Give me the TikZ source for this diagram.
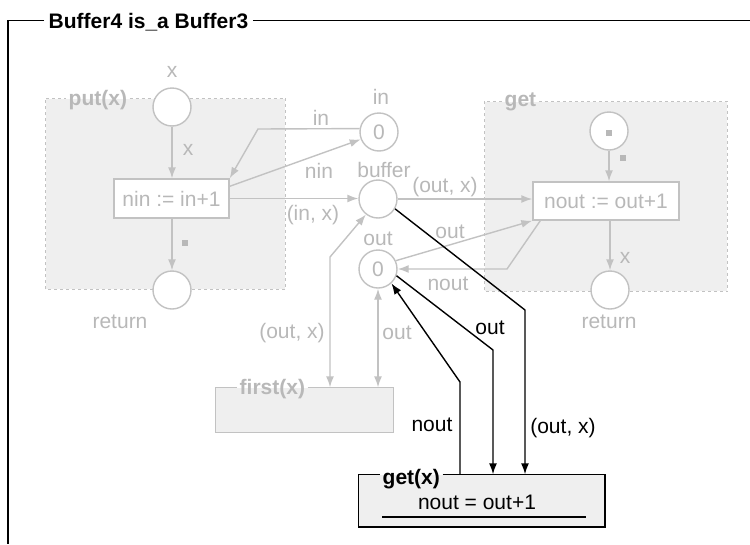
\documentclass[tikz,border=0pt]{standalone}
\usepackage{fontspec}
\setmainfont{Liberation Sans}
\usepackage{xcolor}
\usepackage{tikz}
\usetikzlibrary{arrows.meta}

\definecolor{faded}{HTML}{C2C2C2}
\definecolor{fadedtext}{HTML}{B8B8B8}
\definecolor{paper}{HTML}{EFEFEF}

\begin{document}
\begin{tikzpicture}[x=1pt,y=-1pt,line width=1.4pt,
  font=\fontsize{21}{25}\selectfont,
  place/.style={circle,draw=faded,fill=white,minimum size=38pt,inner sep=0pt,text=fadedtext},
  trans/.style={rectangle,draw=faded,fill=white,minimum height=38pt,inner sep=0pt,text=fadedtext},
  region/.style={draw=faded,dash pattern=on 3pt off 3pt},
  tag/.style={anchor=west,font=\fontsize{21}{25}\selectfont\bfseries,inner xsep=2pt,inner ysep=0pt,text=fadedtext},
  lbl/.style={text=fadedtext,inner sep=0pt},
  dot/.style={rectangle,fill=fadedtext,minimum size=5.5pt,inner sep=0pt},
  flow/.style={draw=faded,-{Latex[length=11pt,width=8pt]}},
  flowboth/.style={draw=faded,{Latex[length=11pt,width=8pt]}-{Latex[length=11pt,width=8pt]}},
  bflow/.style={draw=black,-{Latex[length=11pt,width=8pt]}}]

\useasboundingbox (0,0) rectangle (750,544);

% frame
\node[anchor=west,font=\fontsize{21}{25}\selectfont\bfseries,inner xsep=4pt,text height=15pt,text depth=0pt] (title) at (44,20.5) {Buffer4 is\_a Buffer3};
\coordinate (frametop) at (8,20.5);
\draw[line width=1.8pt] (title.west) -- (frametop) -- (8,544);
\draw[line width=1.8pt] (title.east) -- (750,20.5);

% put(x) and get regions
\node[fill=paper,minimum width=239pt,minimum height=190pt,inner sep=0pt] (putreg) at (165.5,194) {};
\node[tag] (puttag) at (66,100) {put(x)};
\draw[region] (puttag.east |- putreg.north) -- (putreg.north east) -- (putreg.south east) -- (putreg.south west) -- (putreg.north west) -- (puttag.west |- putreg.north);
\node[fill=paper,minimum width=242pt,minimum height=189pt,inner sep=0pt] (getreg) at (606,196.5) {};
\node[tag] (gettag) at (502,102) {get};
\draw[region] (gettag.east |- getreg.north) -- (getreg.north east) -- (getreg.south east) -- (getreg.south west) -- (getreg.north west) -- (gettag.west |- getreg.north);

% first(x)
\node[fill=paper,minimum width=177pt,minimum height=44pt,inner sep=0pt] (first) at (304.5,410) {};
\node[tag] (firsttag) at (237,389) {first(x)};
\draw[faded] (firsttag.east |- first.north) -- (first.north east) -- (first.south east) -- (first.south west) -- (first.north west) -- (firsttag.west |- first.north);

% get(x)
\node[fill=paper,minimum width=245pt,minimum height=51pt,inner sep=0pt] (getx) at (481.5,500.5) {};
\node[tag,text=black] (getxtag) at (380,479) {get(x)};
\draw[line width=1.6pt] (getxtag.east |- getx.north) -- (getx.north east) -- (getx.south east) -- (getx.south west) -- (getx.north west) -- (getxtag.west |- getx.north);
\node (guard) at (477,502) {nout = out+1};
\draw[line width=1.6pt] (382,517) -- (586,517);

% places and transitions
\node[place] (putin) at (172,107) {};
\node[lbl] (putinname) at (172,72) {x};
\node[trans,minimum width=115pt,minimum height=39pt] (nin) at (171.5,198.5) {nin := in+1};
\node[place] (putret) at (172,290) {};
\node[lbl] (putretname) at (120,322) {return};

\node[place] (inP) at (379,132) {0};
\node[lbl] (inname) at (381,97) {in};
\node[place] (bufP) at (378,199) {};
\node[lbl] (bufname) at (384,170) {buffer};
\node[place] (outP) at (378,269) {0};
\node[lbl] (outname) at (378,239) {out};

\node[place] (getin) at (609,131) {};
\node[dot] (getindot) at (609,133) {};
\node[trans,minimum width=146pt] (nout) at (606,201) {nout := out+1};
\node[place] (getret) at (610,290) {};
\node[lbl] (getretname) at (609,322) {return};

% grey arcs
\draw[flow] (putin.south) -- (putin.south |- nin.north);
\draw[flow] (putret.north |- nin.south) -- (putret.north);
\coordinate (inbend) at (258,129);
\draw[flow] (inP.170) -- (inbend) -- (nin.north east);
\draw[flow] ([yshift=-8pt]nin.north east) -- (inP.202);
\draw[flow] (nin.east) -- (nin.east -| bufP.west);
\coordinate (firstbend) at (330,257);
\draw[flowboth] (firstbend |- first.north) -- (firstbend) -- (bufP.232);
\draw[flowboth] (outP.south) -- (outP.south |- first.north);
\draw[flow] (bufP.east) -- (bufP.east -| nout.west);
\draw[flow] (outP.25) -- (nout.south west);
\coordinate (noutbend) at (507,269);
\draw[flow] ([xshift=8pt]nout.south west) -- (noutbend) -- (outP.east);
\draw[flow] (getin.south) -- (getin.south |- nout.north);
\draw[flow] (getret.north |- nout.south) -- (getret.north);

\node[lbl] (lx1) at (188,150) {x};
\node[dot] (ldot1) at (185,243) {};
\node[lbl] (lin) at (321,118) {in};
\node[lbl] (lnin) at (319,171) {nin};
\node[lbl] (linx) at (313,215) {(in, x)};
\node[lbl] (loutx1) at (292,333) {(out, x)};
\node[lbl] (lout1) at (397,333) {out};
\node[lbl] (loutx2) at (445,187) {(out, x)};
\node[lbl] (lout2) at (450,232) {out};
\node[lbl] (lnout) at (448,284) {nout};
\node[dot] (ldot2) at (623,158) {};
\node[lbl] (lx2) at (625,258) {x};

% black arcs to get(x)
\coordinate (noutup) at (460,382);
\draw[bflow] (noutup |- getx.north) -- (noutup) -- (outP.313);
\coordinate (outdown) at (493,350);
\draw[bflow] (outP.340) -- (outdown) -- (outdown |- getx.north);
\coordinate (bufdown) at (525,310);
\draw[bflow] (bufP.330) -- (bufdown) -- (bufdown |- getx.north);

\node[inner sep=0pt] (bnout) at (432,425) {nout};
\node[inner sep=0pt] (bout) at (490,328) {out};
\node[inner sep=0pt] (boutx) at (563,428) {(out, x)};

\end{tikzpicture}
\end{document}
